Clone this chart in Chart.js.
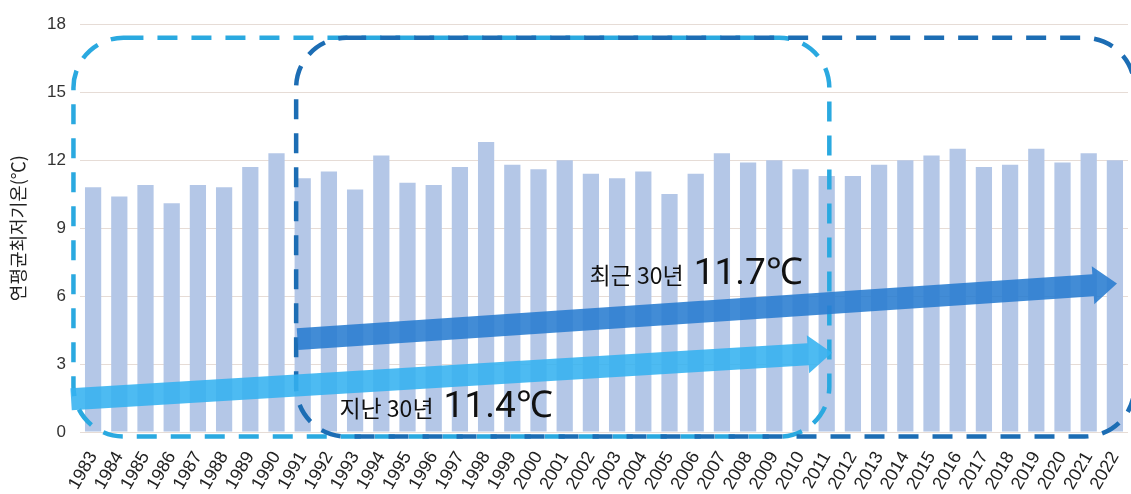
<!DOCTYPE html>
<html>
<head>
<meta charset="utf-8">
<script src="https://cdn.jsdelivr.net/npm/chart.js@4/dist/chart.umd.min.js"></script>
<style>
  html, body { margin: 0; padding: 0; background: #fff; }
  #wrap { width: 1131px; height: 494px; }
</style>
</head>
<body>
<div id="wrap"><canvas id="myChart" width="1131" height="494"></canvas></div>
<script>
// years 1983..2022
var years = [];
for (var y = 1983; y <= 2022; y++) years.push(String(y));

// 연평균최저기온
var minTemp = [
	10.8, 10.4, 10.9, 10.1, 10.9, 10.8, 11.7, 12.3,
	11.2, 11.5, 10.7, 12.2, 11.0, 10.9, 11.7, 12.8, 11.8, 11.6, 12.0,
	11.4, 11.2, 11.5, 10.5, 11.4, 12.3, 11.9, 12.0, 11.6, 11.3,
	11.3, 11.8, 12.0, 12.2, 12.5, 11.7, 11.8, 12.5, 11.9, 12.3, 12.0
];

var yTicks = [0, 3, 6, 9, 12, 15, 18];

// the two 30-year periods (category index range + mean)
var pastPeriod = { from: 0, to: 28, label: '지난 30년', value: '11.4℃' };
var recentPeriod = { from: 8, to: 39, label: '최근 30년', value: '11.7℃' };

// arrows in data space [index, value]
var pastArrow = [[-0.84, 1.45], [28.2, 3.5]];
var recentArrow = [[7.8, 4.1], [39.08, 6.55]];

var overlay = {
	id: 'overlay',
	afterDatasetsDraw: function(chart) {
		var ctx = chart.ctx, xs = chart.scales.x, ys = chart.scales.y;
		var w = xs.width / years.length;

		function box(left, right, top, bottom, color) {
			ctx.save();
			ctx.strokeStyle = color;
			ctx.lineWidth = 4.5;
			ctx.setLineDash([20, 14]);
			ctx.beginPath();
			ctx.roundRect(left, top, right - left, bottom - top, 50);
			ctx.stroke();
			ctx.restore();
		}
		function arrow(a, color) {
			var x1 = xs.getPixelForValue(a[0][0]), y1 = ys.getPixelForValue(a[0][1]);
			var x2 = xs.getPixelForValue(a[1][0]), y2 = ys.getPixelForValue(a[1][1]);
			var ang = Math.atan2(y2 - y1, x2 - x1);
			var len = Math.hypot(x2 - x1, y2 - y1);
			var t = 11, hl = 24, hw = 19;
			ctx.save();
			ctx.translate(x1, y1);
			ctx.rotate(ang);
			ctx.fillStyle = color;
			ctx.beginPath();
			ctx.moveTo(0, -t);
			ctx.lineTo(len - hl, -t);
			ctx.lineTo(len - hl, -hw);
			ctx.lineTo(len, 0);
			ctx.lineTo(len - hl, hw);
			ctx.lineTo(len - hl, t);
			ctx.lineTo(0, t);
			ctx.closePath();
			ctx.fill();
			ctx.restore();
		}
		function label(p, x, y) {
			ctx.save();
			ctx.fillStyle = '#111';
			ctx.textBaseline = 'alphabetic';
			ctx.font = '23px "Noto Sans CJK KR"';
			ctx.fillText(p.label, x, y);
			var lw = ctx.measureText(p.label).width;
			ctx.font = '37px Roboto';
			ctx.fillText(p.value, x + lw + 10, y);
			ctx.restore();
		}

		var top = ys.getPixelForValue(17.4), bottom = ys.getPixelForValue(-0.2);
		box(xs.getPixelForValue(pastPeriod.from) - w * 0.75, xs.getPixelForValue(pastPeriod.to) + w * 0.1,
			top, bottom, '#2aa9e0');
		box(xs.getPixelForValue(recentPeriod.from) - w * 0.25, xs.getPixelForValue(recentPeriod.to) + w * 0.75,
			top, bottom, '#1c6db4');

		arrow(pastArrow, 'rgba(52,178,240,0.88)');
		arrow(recentArrow, 'rgba(40,124,208,0.88)');

		label(pastPeriod, xs.getPixelForValue(9.4), ys.getPixelForValue(0.65));
		label(recentPeriod, xs.getPixelForValue(18.95), ys.getPixelForValue(6.55));
	}
};

var ctx = document.getElementById('myChart').getContext('2d');
var myChart = new Chart(ctx, {
	type: 'bar',
	data: {
		labels: years,
		datasets: [{
			data: minTemp,
			backgroundColor: '#b4c7e7',
			categoryPercentage: 1,
			barPercentage: 0.62
		}]
	},
	options: {
		responsive: false,
		animation: false,
		layout: { padding: { top: 12, right: 3 } },
		plugins: { legend: { display: false }, tooltip: { enabled: false } },
		scales: {
			x: {
				grid: { display: false },
				border: { display: false },
				ticks: {
					color: '#222',
					font: { family: '"Liberation Sans"', size: 18 },
					minRotation: 60, maxRotation: 60,
					autoSkip: false,
					padding: 8
				},
				afterFit: function(s) { s.height = 62; s.paddingLeft = 0; s.paddingRight = 0; }
			},
			y: {
				min: 0, max: 18,
				afterBuildTicks: function(s) { s.ticks = yTicks.map(function(v) { return { value: v }; }); },
				grid: { color: '#e6dcd6', drawTicks: false },
				border: { display: false },
				ticks: {
					color: '#333',
					font: { family: '"Liberation Sans"', size: 17 },
					padding: 14
				},
				title: {
					display: true,
					text: '연평균최저기온(℃)',
					color: '#222',
					font: { family: '"Noto Sans CJK KR"', size: 18 },
					padding: { top: 7, bottom: 0 }
				},
				afterFit: function(s) { s.width = 80; }
			}
		}
	},
	plugins: [overlay]
});
</script>
</body>
</html>
